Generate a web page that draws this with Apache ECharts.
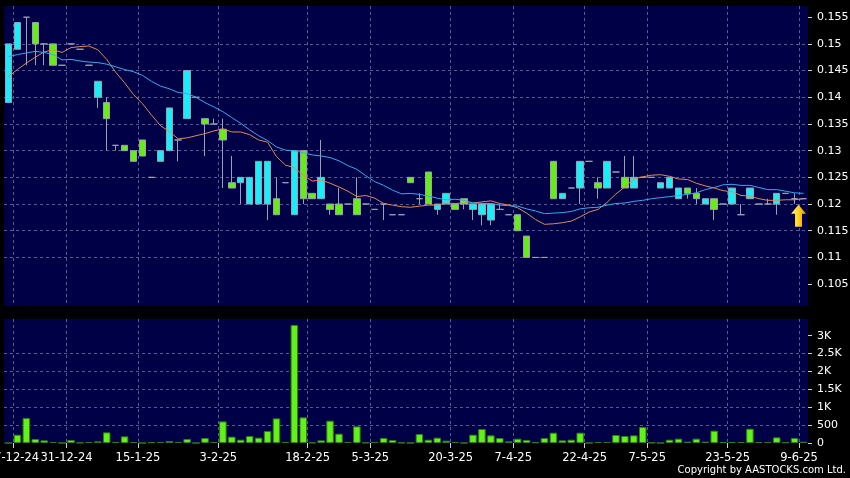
<!DOCTYPE html>
<html><head><meta charset="utf-8">
<script src="https://cdn.jsdelivr.net/npm/echarts@6/dist/echarts.min.js"></script>
<style>html,body{margin:0;padding:0;background:#000;}#c{width:850px;height:478px;}</style>
</head><body><div id="c"></div>
<script>
// ---- data (one entry per trading slot) ----
const opens  = [0.139,0.149,0.155,0.154,0.150,0.150,0.146,0.150,0.149,0.146, 0.140,0.139,0.131,0.131,0.130,0.132,0.125,0.128,0.130,0.132, 0.136,0.140,0.136,0.135,0.134,0.124,0.124,0.120,0.120,0.120, 0.121,0.124,0.118,0.130,0.122,0.121,0.120,0.120,0.120,0.121, 0.120,0.119,0.120,0.118,0.118,0.125,0.121,0.126,0.119,0.120, 0.120,0.121,0.119,0.118,0.117,0.119,0.118,0.118,0.114,0.110, 0.110,0.128,0.121,0.123,0.123,0.128,0.124,0.123,0.126,0.125, 0.123,0.125,0.125,0.123,0.123,0.121,0.123,0.122,0.120,0.121, 0.120,0.120,0.118,0.121,0.120,0.120,0.120,0.122,0.121,0.121];
const closes = [0.150,0.154,0.155,0.150,0.150,0.146,0.146,0.150,0.149,0.146, 0.143,0.136,0.131,0.130,0.128,0.129,0.125,0.130,0.138,0.132, 0.145,0.140,0.135,0.135,0.132,0.123,0.125,0.125,0.128,0.128, 0.118,0.124,0.130,0.121,0.121,0.125,0.119,0.118,0.120,0.118, 0.120,0.119,0.120,0.118,0.118,0.124,0.121,0.120,0.120,0.122, 0.119,0.120,0.120,0.120,0.120,0.119,0.118,0.115,0.110,0.110, 0.110,0.121,0.122,0.123,0.128,0.128,0.123,0.128,0.126,0.123, 0.125,0.125,0.125,0.124,0.125,0.123,0.122,0.121,0.121,0.119, 0.120,0.123,0.118,0.123,0.120,0.120,0.122,0.122,0.121,0.121];
const lows   = [0.139,0.149,0.146,0.146,0.146,0.146,0.146,0.150,0.149,0.146, 0.138,0.130,0.130,0.130,0.128,0.129,0.125,0.128,0.130,0.128, 0.136,0.140,0.129,0.135,0.123,0.123,0.120,0.120,0.120,0.117, 0.118,0.124,0.118,0.120,0.121,0.121,0.118,0.118,0.120,0.118, 0.120,0.119,0.117,0.118,0.118,0.124,0.120,0.120,0.118,0.120, 0.119,0.119,0.117,0.116,0.116,0.119,0.118,0.115,0.110,0.110, 0.110,0.121,0.121,0.123,0.120,0.128,0.121,0.123,0.126,0.123, 0.123,0.125,0.125,0.123,0.123,0.121,0.121,0.120,0.120,0.117, 0.120,0.120,0.118,0.121,0.120,0.120,0.118,0.122,0.120,0.121];
const highs  = [0.150,0.154,0.155,0.154,0.150,0.150,0.146,0.150,0.149,0.146, 0.143,0.140,0.131,0.131,0.130,0.132,0.125,0.130,0.138,0.132, 0.145,0.140,0.136,0.136,0.136,0.129,0.125,0.125,0.128,0.128, 0.125,0.124,0.130,0.130,0.122,0.132,0.120,0.123,0.120,0.125, 0.120,0.119,0.120,0.118,0.118,0.125,0.122,0.126,0.120,0.122, 0.120,0.121,0.120,0.120,0.120,0.120,0.118,0.118,0.114,0.110, 0.110,0.128,0.122,0.123,0.128,0.128,0.125,0.128,0.126,0.129, 0.129,0.125,0.125,0.124,0.125,0.123,0.123,0.123,0.121,0.121, 0.120,0.123,0.120,0.123,0.120,0.121,0.122,0.122,0.122,0.121];
const ma10 = [0.1439,0.1452,0.1464,0.1475,0.1485,0.1489,0.1484,0.1493,0.1495,0.1496, 0.1489,0.1471,0.1447,0.1427,0.1405,0.1388,0.1367,0.1347,0.1336,0.1322, 0.1324,0.1328,0.1332,0.1337,0.1341,0.1335,0.1335,0.1330,0.1320,0.1316, 0.1289,0.1273,0.1268,0.1254,0.1243,0.1245,0.1239,0.1232,0.1224,0.1214, 0.1216,0.1211,0.1201,0.1198,0.1195,0.1194,0.1196,0.1198,0.1198,0.1202, 0.1201,0.1202,0.1202,0.1204,0.1206,0.1201,0.1198,0.1193,0.1183,0.1171, 0.1162,0.1163,0.1165,0.1168,0.1176,0.1185,0.1190,0.1203,0.1219,0.1232, 0.1247,0.1251,0.1254,0.1255,0.1252,0.1247,0.1246,0.1239,0.1234,0.1230, 0.1225,0.1223,0.1216,0.1215,0.1210,0.1207,0.1207,0.1208,0.1208,0.1210];
const ma20 = [0.1476,0.1480,0.1483,0.1486,0.1484,0.1480,0.1470,0.1471,0.1468,0.1466, 0.1465,0.1462,0.1457,0.1452,0.1448,0.1441,0.1430,0.1421,0.1416,0.1409, 0.1407,0.1400,0.1390,0.1382,0.1373,0.1362,0.1351,0.1339,0.1328,0.1319, 0.1307,0.1301,0.1300,0.1296,0.1292,0.1290,0.1287,0.1281,0.1272,0.1265, 0.1253,0.1242,0.1235,0.1226,0.1219,0.1220,0.1218,0.1215,0.1211,0.1208, 0.1209,0.1207,0.1202,0.1201,0.1201,0.1198,0.1197,0.1196,0.1191,0.1187, 0.1182,0.1183,0.1184,0.1186,0.1191,0.1193,0.1194,0.1198,0.1201,0.1202, 0.1205,0.1207,0.1210,0.1212,0.1214,0.1216,0.1218,0.1221,0.1227,0.1231, 0.1236,0.1237,0.1235,0.1235,0.1231,0.1227,0.1227,0.1224,0.1221,0.1220];
const volumes = [0,232,697,112,74,28,0,84,9,28, 46,297,28,186,28,0,19,28,56,28, 112,0,139,28,604,177,93,195,149,335, 688,28,3299,716,9,74,623,260,28,465, 9,28,139,84,9,0,251,93,149,65, 28,0,232,390,214,139,46,121,84,19, 139,288,74,93,288,0,28,28,223,195, 214,446,9,0,93,121,37,121,37,344, 28,28,28,400,28,28,158,19,139,37];
// date labels sit on the boundary in front of these slots
const tickSlots  = [1,7,15,24,34,41,50,57,65,72,81,89];
const tickLabels = ['17-12-24','31-12-24','15-1-25','3-2-25','18-2-25','5-3-25','20-3-25','7-4-25','22-4-25','7-5-25','23-5-25','9-6-25'];
const priceTicks = [0.105,0.11,0.115,0.12,0.125,0.13,0.135,0.14,0.145,0.15,0.155];
const volTicks = [0,500,1000,1500,2000,2500,3000];

// ---- chart ----
const slots = opens.map((_, i) => String(i));
const bounds = slots.concat([String(slots.length)]);   // slot boundaries 0..N
const candles = opens.map((o, i) => [o, closes[i], lows[i], highs[i]]);
const last = closes.length - 1;
const FONT = 'DejaVu Sans';
const gridLine = {show: true, lineStyle: {color: '#5a5a90', width: 1, type: [3, 3]}};
const onTick = i => tickSlots.indexOf(i) >= 0;
const hiddenCat = (g) => ({type: 'category', gridIndex: g, position: 'bottom', data: slots, boundaryGap: true,
  axisLine: {show: false}, axisTick: {show: false}, axisLabel: {show: false}, splitLine: {show: false}});

const chart = echarts.init(document.getElementById('c'), null, {renderer: 'canvas'});
chart.setOption({
  backgroundColor: '#000',
  animation: false,
  grid: [
    {left: 4, top: 6, width: 804, height: 300, show: true, backgroundColor: '#000046', borderWidth: 0, outerBoundsMode: 'none', containLabel: false},
    {left: 4, top: 319, width: 804, height: 124, show: true, backgroundColor: '#000046', borderWidth: 0, outerBoundsMode: 'none', containLabel: false}
  ],
  xAxis: [
    hiddenCat(0),
    hiddenCat(1),
    {type: 'category', gridIndex: 0, position: 'bottom', data: bounds, boundaryGap: false,
     axisLine: {show: false}, axisTick: {show: false}, axisLabel: {show: false},
     splitLine: Object.assign({interval: onTick}, gridLine)},
    {type: 'category', gridIndex: 1, position: 'bottom', data: bounds, boundaryGap: false,
     axisLine: {show: false},
     axisTick: {show: true, interval: onTick, length: 5, lineStyle: {color: '#d0d0d0'}},
     axisLabel: {show: true, interval: onTick, color: '#fff', fontFamily: FONT, fontSize: 11.5, margin: 9,
                 showMinLabel: true, showMaxLabel: true, hideOverlap: false,
                 formatter: (v) => tickLabels[tickSlots.indexOf(Number(v))] || ''},
     splitLine: Object.assign({interval: onTick}, gridLine)}
  ],
  yAxis: [
    {type: 'value', gridIndex: 0, position: 'right', min: 0.1009, max: 0.1571,
     splitNumber: 11, minInterval: 0.005, maxInterval: 0.005, scale: true,
     axisLine: {show: false},
     axisTick: {show: true, length: 4, lineStyle: {color: '#d0d0d0'}, customValues: priceTicks},
     axisLabel: {color: '#fff', fontFamily: FONT, fontSize: 11, margin: 9, customValues: priceTicks,
                 formatter: v => {const r = Math.round(v * 1000) / 1000; return priceTicks.some(t => Math.abs(t - r) < 1e-9) ? String(r) : '';}},
     splitLine: Object.assign({showMinLine: false, showMaxLine: false}, gridLine)},
    {type: 'value', gridIndex: 1, position: 'right', min: 0, max: 3466, interval: 500,
     axisLine: {show: false},
     axisTick: {show: true, length: 4, lineStyle: {color: '#d0d0d0'}, customValues: volTicks},
     axisLabel: {color: '#fff', fontFamily: FONT, fontSize: 11, margin: 9, customValues: volTicks,
                 formatter: v => volTicks.indexOf(v) < 0 ? '' : (v >= 1000 ? (v / 1000) + 'K' : String(v))},
     splitLine: Object.assign({showMinLine: false, showMaxLine: false}, gridLine)}
  ],
  series: [
    {type: 'candlestick', xAxisIndex: 0, yAxisIndex: 0, data: candles, barWidth: 7,
     itemStyle: {color: '#18eef8', color0: '#66ee14', borderColor: '#9aa2b2', borderColor0: '#9aa2b2',
                 borderColorDoji: '#9aa2b2', borderWidth: 1},
     markPoint: {
       symbol: 'path://M7.5,0 L15,9 L11,9 L11,22 L4,22 L4,9 L0,9 Z',
       symbolSize: [15, 22], symbolOffset: [-5, 17], label: {show: false}, silent: true,
       itemStyle: {color: new echarts.graphic.LinearGradient(0, 0, 1, 0, [
         {offset: 0, color: '#fff0a0'}, {offset: 0.5, color: '#ffd21e'}, {offset: 1, color: '#d89a00'}])},
       data: [{coord: [last, closes[last]]}]
     }},
    {type: 'line', xAxisIndex: 0, yAxisIndex: 0, data: ma10, symbol: 'none', silent: true,
     lineStyle: {color: '#e08a55', width: 1}},
    {type: 'line', xAxisIndex: 0, yAxisIndex: 0, data: ma20, symbol: 'none', silent: true,
     lineStyle: {color: '#3aa8f0', width: 1}},
    {type: 'bar', xAxisIndex: 1, yAxisIndex: 1, data: volumes, barWidth: 7.5,
     itemStyle: {color: '#62f21a', borderColor: '#2f7f10', borderWidth: 1}}
  ],
  graphic: [
    {type: 'text', right: 4, top: 465, silent: true,
     style: {text: 'Copyright by AASTOCKS.com Ltd.', fill: '#fff', font: '10px "DejaVu Sans"'}}
  ]
});
</script></body></html>
